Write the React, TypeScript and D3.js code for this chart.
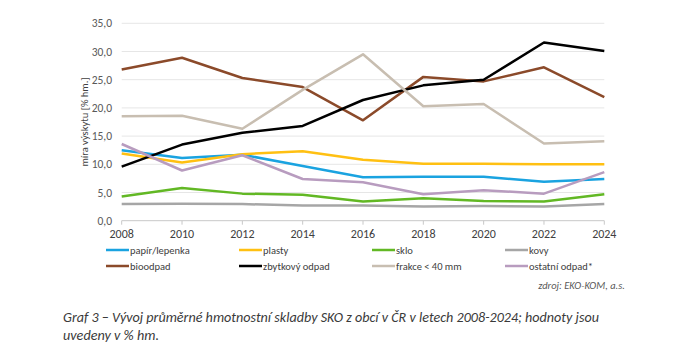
import React from 'react';
import * as d3 from 'd3';

const years = [2008, 2010, 2012, 2014, 2016, 2018, 2020, 2022, 2024];
const yTicks = [0, 5, 10, 15, 20, 25, 30, 35];

const papir = [12.5, 11.1, 11.7, 9.7, 7.7, 7.8, 7.8, 6.9, 7.4];
const plasty = [11.9, 10.3, 11.8, 12.3, 10.8, 10.1, 10.1, 10.0, 10.0];
const sklo = [4.3, 5.8, 4.8, 4.6, 3.4, 4.0, 3.5, 3.4, 4.7];
const kovy = [2.95, 3.0, 2.95, 2.7, 2.7, 2.5, 2.6, 2.5, 2.95];
const bioodpad = [26.8, 28.9, 25.3, 23.7, 17.8, 25.5, 24.7, 27.2, 21.9];
const zbytkovy = [9.6, 13.5, 15.6, 16.8, 21.4, 24.0, 25.0, 31.6, 30.1];
const frakce = [18.5, 18.6, 16.3, 23.2, 29.5, 20.3, 20.7, 13.7, 14.1];
const ostatni = [13.6, 8.9, 11.6, 7.4, 6.8, 4.7, 5.4, 4.8, 8.6];

const series = [
  { name: 'papír/lepenka', values: papir, color: '#1aa3e0' },
  { name: 'plasty', values: plasty, color: '#ffc012' },
  { name: 'sklo', values: sklo, color: '#62b824' },
  { name: 'kovy', values: kovy, color: '#a6a6a6' },
  { name: 'bioodpad', values: bioodpad, color: '#8b4a2a' },
  { name: 'zbytkový odpad', values: zbytkovy, color: '#000000' },
  { name: 'frakce < 40 mm', values: frakce, color: '#c8beb1' },
  { name: 'ostatní odpad*', values: ostatni, color: '#b89cbf' },
];

const font = 'Carlito, Calibri, "Open Sans", sans-serif';

const App = () => {
  const x = d3.scaleLinear().domain([2008, 2024]).range([121.7, 604.3]);
  const y = d3.scaleLinear().domain([0, 35]).range([220.7, 23.3]);
  const fmt = (v: number) => v.toFixed(1).replace('.', ',');

  const line = d3.line<number>()
    .x((d, i) => x(years[i]))
    .y(d => y(d));

  const legendCols = [106, 239, 372, 505];
  const legendRows = [250, 266];

  return (
    <svg width={700} height={351} style={{ position: 'absolute', left: 0, top: 0, background: '#fff' }}>
      {/* gridlines */}
      {yTicks.filter(t => t > 0).map(t => (
        <line key={t} x1={x(2008)} x2={x(2024)} y1={y(t)} y2={y(t)} stroke="#e6e6e6" strokeWidth={1} />
      ))}
      {/* x axis */}
      <line x1={x(2008)} x2={x(2024)} y1={y(0)} y2={y(0)} stroke="#c8c8c8" strokeWidth={1} />
      {years.map(yr => (
        <line key={yr} x1={x(yr)} x2={x(yr)} y1={y(0)} y2={y(0) + 4} stroke="#c8c8c8" strokeWidth={1} />
      ))}
      {/* y tick labels */}
      {yTicks.map(t => (
        <text key={t} x={112} y={y(t)} dy="0.35em" textAnchor="end" fontFamily={font} fontSize={11.5} fill="#595959">
          {fmt(t)}
        </text>
      ))}
      {/* x tick labels */}
      {years.map(yr => (
        <text key={yr} x={x(yr)} y={238} textAnchor="middle" fontFamily={font} fontSize={12} fill="#404040">
          {yr}
        </text>
      ))}
      {/* y axis title */}
      <text transform={`translate(88, ${y(17.5)}) rotate(-90)`} textAnchor="middle" fontFamily={font} fontSize={10.5} fill="#404040">
        míra výskytu  [% hm.]
      </text>
      {/* lines */}
      {series.map(s => (
        <path key={s.name} d={line(s.values) || ''} fill="none" stroke={s.color} strokeWidth={2.5} strokeLinejoin="round" />
      ))}
      {/* legend */}
      {series.map((s, i) => {
        const lx = legendCols[i % 4];
        const ly = legendRows[Math.floor(i / 4)];
        return (
          <g key={s.name}>
            <line x1={lx} x2={lx + 23} y1={ly} y2={ly} stroke={s.color} strokeWidth={2.5} />
            <text x={lx + 24} y={ly} dy="0.35em" fontFamily={font} fontSize={10.5} fill="#404040">{s.name}</text>
          </g>
        );
      })}
      {/* source */}
      <text x={625} y={289} textAnchor="end" fontFamily={font} fontSize={10.5} fontStyle="italic" fill="#595959">
        zdroj: EKO-KOM, a.s.
      </text>
      {/* caption */}
      <text x={63} y={322} fontFamily={font} fontSize={14} fontStyle="italic" fill="#3a3a3a" textLength={536} lengthAdjust="spacingAndGlyphs">
        Graf 3 – Vývoj průměrné hmotnostní skladby SKO z obcí v ČR v letech 2008-2024; hodnoty jsou
      </text>
      <text x={63} y={340} fontFamily={font} fontSize={14} fontStyle="italic" fill="#3a3a3a" textLength={96} lengthAdjust="spacingAndGlyphs">
        uvedeny v % hm.
      </text>
    </svg>
  );
};

export default App;
